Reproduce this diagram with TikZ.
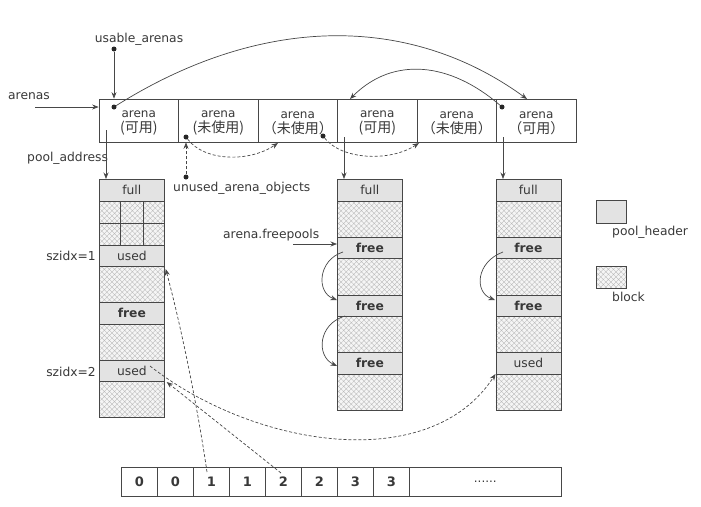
\documentclass[tikz,border=0pt]{standalone}
\usepackage{fontspec}
\setmainfont{DejaVu Sans}
\newfontfamily\cjk{Noto Sans CJK SC}
\usetikzlibrary{arrows.meta,patterns.meta,calc}

% two-line arena caption, set a little below the cell centre
\newcommand{\arenatxt}[1]{\raisebox{-2.5pt}[\height][\depth]{\parbox{76pt}{\centering
  arena\\[-1pt]{\cjk\fontsize{14}{16}\selectfont #1}}}}

\begin{document}
\begin{tikzpicture}[x=1pt,y=-1pt,
  every node/.style={font=\fontsize{12.3}{14}\selectfont, text=black!78},
  ln/.style={draw=black!72, line width=0.7pt},
  arr/.style={ln, -{Stealth[length=6.5pt,width=5pt]}},
  darr/.style={arr, dash pattern=on 3pt off 2pt},
  arenacell/.style={ln, minimum width=79.5pt, minimum height=43pt, inner sep=0pt,
    align=center, font=\fontsize{12}{16}\selectfont},
  hdr/.style={ln, fill=gray!22, minimum width=65pt, inner sep=0pt, anchor=north west},
  blk/.style={ln, preaction={fill=gray!8},
    pattern={Hatch[angle=45,distance=3.6pt,line width=0.35pt]}, pattern color=gray!55,
    minimum width=65pt, inner sep=0pt, anchor=north west},
  dot/.style={circle, fill=black!85, inner sep=0pt, minimum size=5pt},
  lbl/.style={inner sep=0pt},
  cellnum/.style={ln, minimum width=36pt, minimum height=29pt, inner sep=0pt,
    anchor=north west, font=\fontsize{13}{15}\selectfont\bfseries},
]
\useasboundingbox (0,0) rectangle (701,506);

% ---- arena array ----
\node[arenacell] (a1) at (138.75,120.5) {\arenatxt{(可用)}};
\node[arenacell] (a2) at (218.25,120.5) {\arenatxt{(未使用)}};
\node[arenacell] (a3) at (297.75,120.5) {\arenatxt{（未使用）}};
\node[arenacell] (a4) at (377.25,120.5) {\arenatxt{(可用)}};
\node[arenacell] (a5) at (456.75,120.5) {\arenatxt{（未使用）}};
\node[arenacell] (a6) at (536.25,120.5) {\arenatxt{（可用）}};

% pointers inside the arenas
\node[dot] (d1) at (114,107) {};
\node[dot] (d2) at (186,137) {};
\node[dot] (d3) at (323,136) {};
\node[dot] (d6) at (502,107) {};

% ---- labels ----
\node[lbl] (ualbl) at (139,39) {usable\_arenas};
\node[dot] (ua) at (114,49) {};
\node[lbl, anchor=west] (arenaslbl) at (8,96) {arenas};
\coordinate (arenasin) at (35,107);
\node[lbl, anchor=west] (palbl) at (27,158) {pool\_address};
\node[lbl, anchor=west] (uaolbl) at (173,188) {unused\_arena\_objects};
\node[dot] (uao) at (186,177) {};
\node[lbl, anchor=west] (fplbl) at (223,235) {arena.freepools};
\node[lbl, anchor=east] (sz1) at (96,256) {szidx=1};
\node[lbl, anchor=east] (sz2) at (96,372) {szidx=2};

% ---- pool 1 ----
\node[hdr, minimum height=22pt] (p1full) at (99,179) {full};
\node[blk, minimum width=21pt, minimum height=22pt] (p1g11) at (99,201) {};
\node[blk, minimum width=23pt, minimum height=22pt] (p1g12) at (120,201) {};
\node[blk, minimum width=21pt, minimum height=22pt] (p1g13) at (143,201) {};
\node[blk, minimum width=21pt, minimum height=22pt] (p1g21) at (99,223) {};
\node[blk, minimum width=23pt, minimum height=22pt] (p1g22) at (120,223) {};
\node[blk, minimum width=21pt, minimum height=22pt] (p1g23) at (143,223) {};
\node[hdr, minimum height=21pt] (p1used1) at (99,245) {used};
\node[blk, minimum height=36pt] (p1b1) at (99,266) {};
\node[hdr, minimum height=22pt] (p1free) at (99,302) {\bfseries free};
\node[blk, minimum height=36pt] (p1b2) at (99,324) {};
\node[hdr, minimum height=21pt] (p1used2) at (99,360) {used};
\node[blk, minimum height=36pt] (p1b3) at (99,381) {};

% ---- pools 2 and 3 ----
\foreach \p/\x/\last in {2/337/{\bfseries free}, 3/495.5/used}{
  \node[hdr, minimum height=22pt] (p\p full) at (\x,179) {full};
  \node[blk, minimum height=36pt] (p\p b1) at (\x,201) {};
  \node[hdr, minimum height=21pt] (p\p h1) at (\x,237) {\bfseries free};
  \node[blk, minimum height=37pt] (p\p b2) at (\x,258) {};
  \node[hdr, minimum height=21pt] (p\p h2) at (\x,295) {\bfseries free};
  \node[blk, minimum height=36pt] (p\p b3) at (\x,316) {};
  \node[hdr, minimum height=22pt] (p\p h3) at (\x,352) {\last};
  \node[blk, minimum height=36pt] (p\p b4) at (\x,374) {};
}

% ---- legend ----
\node[hdr, minimum width=30pt, minimum height=23pt] (leghdr) at (596,200) {};
\node[lbl, anchor=west] (leghdrlbl) at (612,232) {pool\_header};
\node[blk, minimum width=30pt, minimum height=22pt] (legblk) at (596,266) {};
\node[lbl, anchor=west] (legblklbl) at (612,297) {block};

% ---- size class index table ----
\node[cellnum] (c1) at (121,467) {0};
\node[cellnum] (c2) at (157,467) {0};
\node[cellnum] (c3) at (193,467) {1};
\node[cellnum] (c4) at (229,467) {1};
\node[cellnum] (c5) at (265,467) {2};
\node[cellnum] (c6) at (301,467) {2};
\node[cellnum] (c7) at (337,467) {3};
\node[cellnum] (c8) at (373,467) {3};
\node[cellnum, minimum width=152pt, font=\fontsize{12}{14}\selectfont] (c9) at (409,467) {......};

% ---- connectors ----
\draw[arr] (arenasin) -- (a1.west |- d1);
\draw[arr] (ua) -- (ua |- a1.north);
\coordinate (a6top) at (527,99);
\coordinate (a4top) at (350,99);
\draw[arr] (d1) .. controls (262,14) and (410,14) .. (a6top);
\draw[arr] (d6) .. controls (450,62) and (393,56) .. (a4top);

% pools hanging from their arenas
\coordinate (pa) at (106,130);
\draw[arr] (pa) -- (pa |- p1full.north);
\coordinate (a4down) at (344,137);
\draw[arr] (a4down) -- (a4down |- p2full.north);
\coordinate (a6down) at (503,137);
\draw[arr] (a6down) -- (a6down |- p3full.north);

% unused arena chain
\draw[darr] (uao) -- (uao |- a2.south);
\coordinate (a3bot) at (278,143);
\coordinate (a5bot) at (419,143);
\draw[darr] (d2) .. controls (205,162) and (250,162) .. (a3bot);
\draw[darr] (d3) .. controls (342,160) and (390,162) .. (a5bot);

% free pool chain
\coordinate (fpin) at (293,244);
\draw[arr] (fpin) -- (fpin -| p2h1.west);
\coordinate (f2a) at (343,252);
\coordinate (f2b) at (337,300);
\coordinate (f2c) at (345,316);
\coordinate (f2d) at (337,366);
\draw[arr] (f2a) .. controls (318,260) and (316,292) .. (f2b);
\draw[arr] (f2c) .. controls (318,324) and (316,356) .. (f2d);
\coordinate (f3a) at (503,252);
\coordinate (f3b) at (495,300);
\draw[arr] (f3a) .. controls (476,262) and (474,292) .. (f3b);

% size class index to used pools
\coordinate (c3top) at (207,472);
\coordinate (c5top) at (281,473);
\coordinate (u2tail) at (150,366);
\draw[darr] (c3top) .. controls (198,410) and (182,330) .. ($(p1b1.north east)+(1,3)$);
\draw[darr] (c5top) -- ($(p1b3.north east)+(2,1)$);
\draw[darr] (u2tail) .. controls (255,448) and (430,475) .. (p3b4.north west);
\end{tikzpicture}
\end{document}
